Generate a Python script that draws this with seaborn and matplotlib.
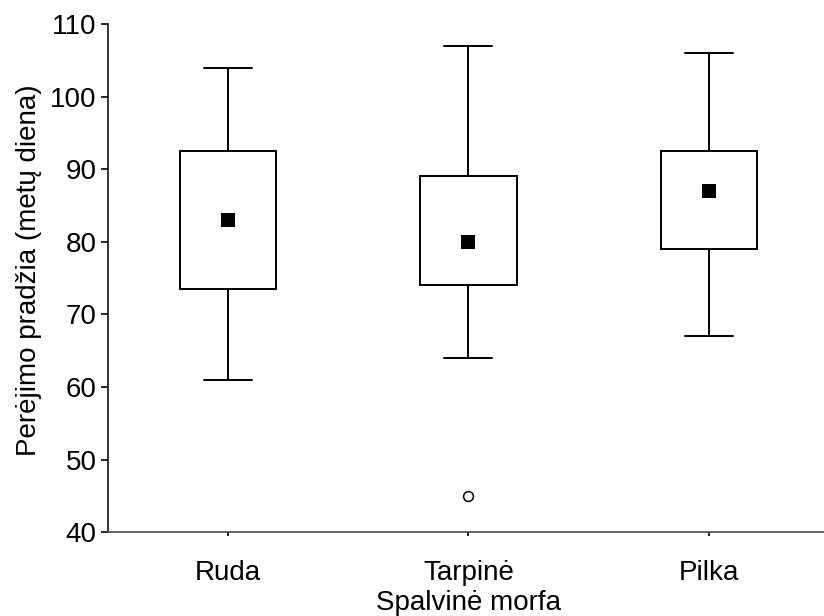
import matplotlib
matplotlib.use("Agg")
import matplotlib.pyplot as plt
import seaborn as sns
import pandas as pd

# Breeding onset (day of year) by colour morph
morphs = ["Ruda", "Tarpinė", "Pilka"]
whisker_low = [61, 64, 67]
q1 = [73.5, 74, 79]
median = [83, 80, 87]
q3 = [92.5, 89, 92.5]
whisker_high = [104, 107, 106]
outlier_morph = ["Tarpinė"]
outlier_value = [45]

sns.set_theme(style="ticks")
plt.rcParams["font.family"] = ["Liberation Sans", "DejaVu Sans"]
plt.rcParams["text.color"] = "black"
plt.rcParams["axes.labelcolor"] = "black"

fig = plt.figure(figsize=(8.24, 6.16), dpi=100)
ax = fig.add_axes([0.131, 0.136, 0.875, 0.825])

stats = [
    dict(label=m, whislo=lo, q1=a, med=md, q3=b, whishi=hi, fliers=[])
    for m, lo, a, md, b, hi in zip(morphs, whisker_low, q1, median, q3, whisker_high)
]
lw = 1.4
ax.bxp(
    stats, positions=range(len(morphs)), widths=0.4, showfliers=False,
    patch_artist=True, manage_ticks=False,
    boxprops=dict(facecolor="white", edgecolor="black", linewidth=lw),
    whiskerprops=dict(color="black", linewidth=lw),
    capprops=dict(color="black", linewidth=lw),
    medianprops=dict(linewidth=0),
    capwidths=0.2,
)

med_df = pd.DataFrame({"morph": morphs, "value": median})
out_df = pd.DataFrame({"morph": outlier_morph, "value": outlier_value})
order = {m: i for i, m in enumerate(morphs)}
med_df["pos"] = med_df["morph"].map(order)
out_df["pos"] = out_df["morph"].map(order)

sns.scatterplot(data=med_df, x="pos", y="value", marker="s", s=100,
                color="black", edgecolor="black", linewidth=0, ax=ax, zorder=5)
sns.scatterplot(data=out_df, x="pos", y="value", marker="o", s=50,
                facecolor="white", edgecolor="black", linewidth=1.1, ax=ax, zorder=5)

ax.set_xlim(-0.5, 2.5)
ax.set_ylim(40, 110)
ax.set_yticks(range(40, 111, 10))
ax.set_xticks(range(len(morphs)))
ax.set_xticklabels(morphs)
ax.tick_params(axis="both", labelsize=20, colors="black", width=1.2)
ax.tick_params(axis="y", length=5, pad=3)
ax.tick_params(axis="x", length=3, pad=17)

ax.set_xlabel("Spalvinė morfa", fontsize=20, labelpad=3)
ax.set_ylabel("Perėjimo pradžia (metų diena)", fontsize=20)
ax.yaxis.set_label_coords(-0.092, 0.516)

sns.despine(ax=ax)
ax.spines["left"].set_linewidth(1.3)
ax.spines["left"].set_color("#222222")
ax.spines["bottom"].set_linewidth(1.3)
ax.spines["bottom"].set_color("#555555")

fig.savefig("out.png", dpi=100, facecolor="white")
